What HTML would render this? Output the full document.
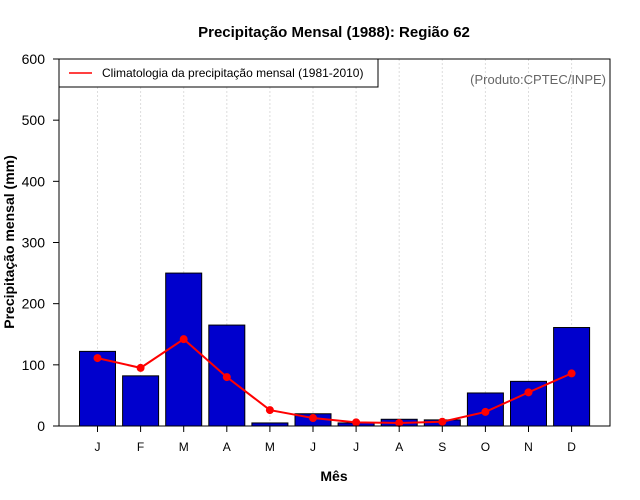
<!DOCTYPE html>
<html><head><meta charset="utf-8"><style>body{margin:0;background:#fff}svg{display:block;font-family:"Liberation Sans",sans-serif}</style></head>
<body>
<svg id="chart" width="640" height="500" viewBox="0 0 640 500" xmlns="http://www.w3.org/2000/svg">
<rect width="640" height="500" fill="#fff"/>
<text x="334" y="37" text-anchor="middle" font-size="15" font-weight="bold">Precipitação Mensal (1988): Região 62</text>
<g id="grid"></g>
<g id="bars"></g>
<g id="line"></g>
<g id="axes"></g>
<rect x="59" y="59" width="551" height="367" fill="none" stroke="#000" stroke-width="1"/>
<g>
<rect x="59" y="59" width="319" height="28" fill="#fff" stroke="#000" stroke-width="1"/>
<line x1="69" y1="73" x2="92" y2="73" stroke="#f00" stroke-width="1.5"/>
<text x="102" y="77" font-size="12">Climatologia da precipitação mensal (1981-2010)</text>
</g>
<text x="606" y="84" text-anchor="end" font-size="13" fill="#666">(Produto:CPTEC/INPE)</text>
<text x="334" y="481" text-anchor="middle" font-size="14" font-weight="bold">Mês</text>
<text transform="translate(14,242) rotate(-90)" text-anchor="middle" font-size="14" font-weight="bold">Precipitação mensal (mm)</text>
</svg>
<script>
const months = ["J","F","M","A","M","J","J","A","S","O","N","D"];
const observed = [122,82,250,165,5,20,5,11,10,54,73,161];
const climatology = [111,95,142,80,26,13,6,5,7,23,55,86];
const yTicks = [0,100,200,300,400,500,600];
const NS="http://www.w3.org/2000/svg";
const x = i => 97.5 + i*43.1;
const y = v => 426 - v*(367/600);
function mk(tag, attrs, parent){const e=document.createElementNS(NS,tag);for(const k in attrs)e.setAttribute(k,attrs[k]);document.getElementById(parent).appendChild(e);return e;}
months.forEach((m,i)=>{
  const g=mk('line',{x1:x(i),x2:x(i),y1:59,y2:426,stroke:'#ddd','stroke-dasharray':'2,2'},'grid');
  
  
  const b=mk('rect',{x:x(i)-18,y:y(observed[i]),width:36,height:426-y(observed[i]),fill:'#0000cd',stroke:'#000','stroke-width':1},'bars');
  
  
  const t=mk('line',{x1:x(i),x2:x(i),y1:426,y2:432,stroke:'#000'},'axes');
  
  
  const l=mk('text',{x:x(i),y:451,'text-anchor':'middle','font-size':12},'axes');
  l.textContent=m;
  
  
});
const pl=mk('polyline',{points:climatology.map((v,i)=>x(i)+','+y(v)).join(' '),fill:'none',stroke:'#f00','stroke-width':2},'line');


climatology.forEach((v,i)=>{
  const c=mk('circle',{cx:x(i),cy:y(v),r:4,fill:'#f00'},'line');
  
  
});
yTicks.forEach(v=>{
  const t=mk('line',{x1:53,x2:59,y1:y(v),y2:y(v),stroke:'#000'},'axes');
  
  
  const l=mk('text',{x:45,y:y(v)+5,'text-anchor':'end','font-size':14},'axes');
  l.textContent=v;
  
  
});
</script>
</body></html>
